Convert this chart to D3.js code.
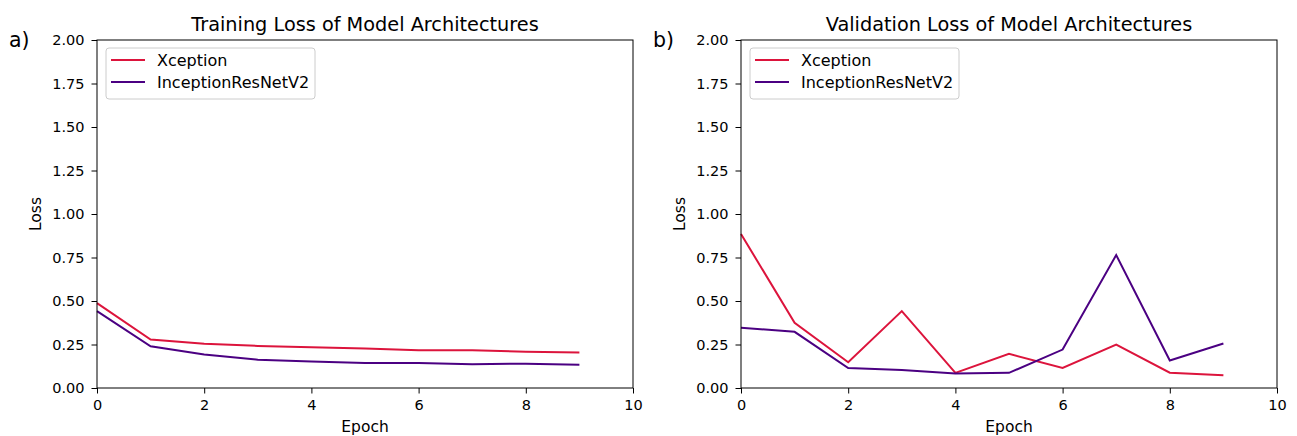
<!DOCTYPE html>
<html><head><meta charset="utf-8">
<script src="https://cdn.jsdelivr.net/npm/d3@7"></script>
<style>body{margin:0;background:#fff}text{font-family:"DejaVu Sans",sans-serif;fill:#000}</style>
</head><body>
<svg id="c" width="1297" height="436"></svg>
<script>
const epochs = [0,1,2,3,4,5,6,7,8,9];
const trainXception = [0.488,0.279,0.254,0.242,0.234,0.227,0.217,0.217,0.208,0.204];
const trainInception = [0.442,0.240,0.192,0.163,0.152,0.144,0.144,0.136,0.140,0.133];
const valXception = [0.885,0.375,0.148,0.442,0.087,0.196,0.115,0.250,0.088,0.073];
const valInception = [0.346,0.323,0.115,0.104,0.083,0.087,0.221,0.764,0.158,0.256];
const seriesNames = ["Xception","InceptionResNetV2"];
const colors = ["#dc143c","#4b0082"];
const yTicks = [0,0.25,0.5,0.75,1.0,1.25,1.5,1.75,2.0];
const xTicks = [0,2,4,6,8,10];

const svg = d3.select("#c");
const panels = [
  {left:97, label:"a)", title:"Training Loss of Model Architectures", data:[trainXception,trainInception]},
  {left:741, label:"b)", title:"Validation Loss of Model Architectures", data:[valXception,valInception]}
];
const W = 536, plotTop = 40, plotBottom = 388;
panels.forEach(p => {
  const g = svg.append("g").attr("transform",`translate(${p.left},0)`);
  const x = d3.scaleLinear().domain([0,10]).range([0,W]);
  const y = d3.scaleLinear().domain([0,2]).range([plotBottom,plotTop]);
  const line = d3.line().x((d,i)=>x(epochs[i])).y(d=>y(d));
  p.data.forEach((s,k)=>{
    g.append("path").datum(s).attr("d",line).attr("fill","none")
      .attr("stroke",colors[k]).attr("stroke-width",2).attr("stroke-linejoin","miter");
  });
  const xa = g.append("g").attr("transform",`translate(0,${plotBottom})`)
    .call(d3.axisBottom(x).tickValues(xTicks).tickFormat(d3.format("d")).tickSize(5.5).tickPadding(6));
  const ya = g.append("g")
    .call(d3.axisLeft(y).tickValues(yTicks).tickFormat(d3.format(".2f")).tickSize(5.5).tickPadding(7));
  [xa,ya].forEach(a=>{
    a.select(".domain").remove();
    a.selectAll("line").attr("stroke","#000").attr("stroke-width",1);
    a.selectAll("text").attr("font-size",14.5).attr("font-family","DejaVu Sans").attr("fill","#000");
  });
  g.append("rect").attr("x",0).attr("y",plotTop).attr("width",W).attr("height",plotBottom-plotTop)
    .attr("fill","none").attr("stroke","#000").attr("stroke-width",1);
  g.append("text").attr("x",W/2).attr("y",31).attr("text-anchor","middle").attr("font-size",19.3).text(p.title);
  g.append("text").attr("x",W/2).attr("y",432).attr("text-anchor","middle").attr("font-size",15.5).text("Epoch");
  g.append("text").attr("transform",`translate(${-56},${(plotTop+plotBottom)/2}) rotate(-90)`)
    .attr("text-anchor","middle").attr("font-size",15.5).text("Loss");
  g.append("text").attr("x",-88).attr("y",47).attr("font-size",20.5).text(p.label);
  const lg = g.append("g").attr("transform","translate(9,48)");
  lg.append("rect").attr("x",0).attr("y",0).attr("width",209).attr("height",51).attr("rx",3)
    .attr("fill","#fff").attr("fill-opacity",0.8).attr("stroke","#ccc");
  seriesNames.forEach((n,k)=>{
    const yy = 12 + k*22;
    lg.append("line").attr("x1",5).attr("x2",39).attr("y1",yy).attr("y2",yy)
      .attr("stroke",colors[k]).attr("stroke-width",2);
    lg.append("text").attr("x",51).attr("y",yy+5.5).attr("font-size",16).text(n);
  });
});
</script>
</body></html>
